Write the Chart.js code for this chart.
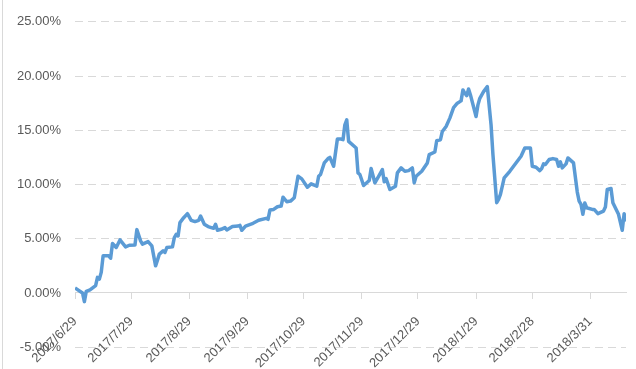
<!DOCTYPE html>
<html>
<head>
<meta charset="utf-8">
<script src="https://cdn.jsdelivr.net/npm/chart.js@4.4.1/dist/chart.umd.min.js"></script>
<style>
  body { margin: 0; background: #fff; overflow: hidden; }
  #wrap { position: relative; width: 636px; height: 369px; }
  #borde { position: absolute; left: 2px; top: 0; width: 1px; height: 369px; background: #d9d9d9; }
</style>
</head>
<body>
<div id="wrap">
  <div id="borde"></div>
  <canvas id="grafico"></canvas>
</div>
<script>
// Días desde 2017/6/29 y rendimiento acumulado (%)
const dias = [0, 4, 5, 6, 8, 11, 12, 13, 14, 15, 18, 19, 20, 22, 24, 27, 29, 32, 33, 35,
  36, 39, 41, 43, 44, 45, 47, 48, 49, 52, 53, 54, 55, 56, 58, 60, 62, 64, 66, 67,
  69, 71, 74, 75, 76, 78, 80, 81, 84, 87, 88, 89, 91, 95, 98, 102, 103, 104, 106, 108,
  110, 111, 113, 115, 117, 119, 121, 124, 126, 129, 130, 131, 133, 135, 136, 138, 140, 142, 143, 144,
  145, 146, 150, 151, 152, 154, 157, 158, 160, 162, 164, 165, 166, 168, 171, 172, 174, 176, 178, 180,
  181, 182, 185, 188, 189, 192, 193, 195, 196, 198, 200, 202, 204, 206, 207, 208, 209, 210, 211, 214,
  215, 216, 218, 220, 222, 223, 225, 226, 227, 229, 232, 234, 236, 238, 240, 243, 244, 246, 248, 249,
  250, 251, 253, 255, 257, 258, 259, 260, 262, 263, 266, 268, 269, 270, 271, 272, 273, 276, 277, 279,
  282, 283, 284, 286, 287, 290, 292, 293, 294];
const rendimiento = [0.46, 0.0, -0.8, 0.15, 0.28, 0.67, 1.44, 1.28, 1.9, 3.42, 3.42, 3.2, 4.56, 4.19, 4.89, 4.25, 4.4, 4.43, 5.84, 4.8,
  4.5, 4.74, 4.34, 2.5, 3.03, 3.58, 3.88, 3.73, 4.19, 4.25, 5.11, 5.41, 5.26, 6.49, 6.94, 7.31, 6.7, 6.58, 6.7, 7.09,
  6.33, 6.12, 5.96, 6.33, 5.78, 5.87, 6.03, 5.81, 6.12, 6.17, 6.24, 5.78, 6.17, 6.42, 6.7, 6.88, 6.79, 7.64, 7.7, 7.95,
  8.01, 8.83, 8.41, 8.47, 8.78, 10.76, 10.52, 9.75, 10.06, 9.84, 10.76, 10.92, 11.99, 12.39, 12.5, 11.68, 14.19, 14.19, 14.13, 15.5,
  15.96, 13.97, 13.37, 11.07, 10.92, 9.91, 10.37, 11.47, 10.16, 10.76, 11.38, 10.25, 10.55, 9.54, 9.84, 11.07, 11.53, 11.22, 11.28, 11.53,
  10.16, 10.76, 11.22, 11.99, 12.75, 13.0, 14.04, 14.13, 14.89, 15.35, 16.12, 17.09, 17.5, 17.71, 18.72, 18.41, 18.19, 18.81, 18.26, 16.27,
  17.34, 17.95, 18.56, 19.02, 15.5, 12.75, 8.32, 8.62, 9.08, 10.61, 11.22, 11.68, 12.14, 12.6, 13.37, 13.37, 11.68, 11.59, 11.28, 11.47, 11.9,
  11.84, 12.3, 12.39, 12.3, 11.68, 12.08, 11.53, 11.9, 12.45, 11.99, 9.3, 8.47, 8.17, 7.25, 8.3, 7.86, 7.7, 7.7, 7.31, 7.55,
  7.92, 9.54, 9.63, 8.32, 7.25, 5.78, 7.31, 6.6, 6.4];

// Marcas del eje X
const diasEtiqueta = [0, 30, 61, 92, 122, 153, 183, 214, 244, 275];
const etiquetasX = ['2017/6/29', '2017/7/29', '2017/8/29', '2017/9/29', '2017/10/29',
  '2017/11/29', '2017/12/29', '2018/1/29', '2018/2/28', '2018/3/31'];

const puntos = dias.map((d, i) => ({ x: d, y: rendimiento[i] }));
const fuente = { family: 'Liberation Sans', size: 13 };

const ctx = document.getElementById('grafico').getContext('2d');
new Chart(ctx, {
    type: 'line',
    data: {
        datasets: [{
            data: puntos,
            borderColor: '#5b9bd5',
            borderWidth: 3.5,
            pointRadius: 0,
            tension: 0,
            fill: false,
            borderJoinStyle: 'round',
        }],
    },
    options: {
        responsive: true,
        maintainAspectRatio: false,
        animation: false,
        layout: { padding: { top: 16, right: 10, left: 0, bottom: 0 } },
        plugins: {
            legend: { display: false },
            tooltip: { enabled: false },
        },
        scales: {
            x: {
                type: 'linear',
                position: { y: 0 },
                min: 0,
                max: 294,
                afterBuildTicks: (scale) => {
                    scale.ticks = diasEtiqueta.map((v) => ({ value: v }));
                },
                afterFit: (scale) => { scale.height = 26; },
                ticks: {
                    autoSkip: false,
                    minRotation: 45,
                    maxRotation: 45,
                    padding: 15,
                    color: '#595959',
                    font: fuente,
                    callback: (v) => etiquetasX[diasEtiqueta.indexOf(v)],
                },
                grid: {
                    drawOnChartArea: false,
                    drawTicks: true,
                    tickLength: 6,
                    color: '#d9d9d9',
                },
                border: { display: true, color: '#d9d9d9', width: 1 },
            },
            y: {
                min: -5,
                max: 25,
                afterFit: (scale) => { scale.width = 75; },
                ticks: {
                    stepSize: 5,
                    padding: 14,
                    color: '#595959',
                    font: fuente,
                    callback: (v) => v.toFixed(2) + '%',
                },
                grid: {
                    drawTicks: false,
                    color: (c) => (c.tick && c.tick.value === 0 ? 'rgba(0,0,0,0)' : '#d9d9d9'),
                    lineWidth: 1,
                },
                border: { display: true, color: 'rgba(0,0,0,0)', width: 0, dash: [8, 5] },
            },
        },
    },
});
</script>
</body>
</html>
